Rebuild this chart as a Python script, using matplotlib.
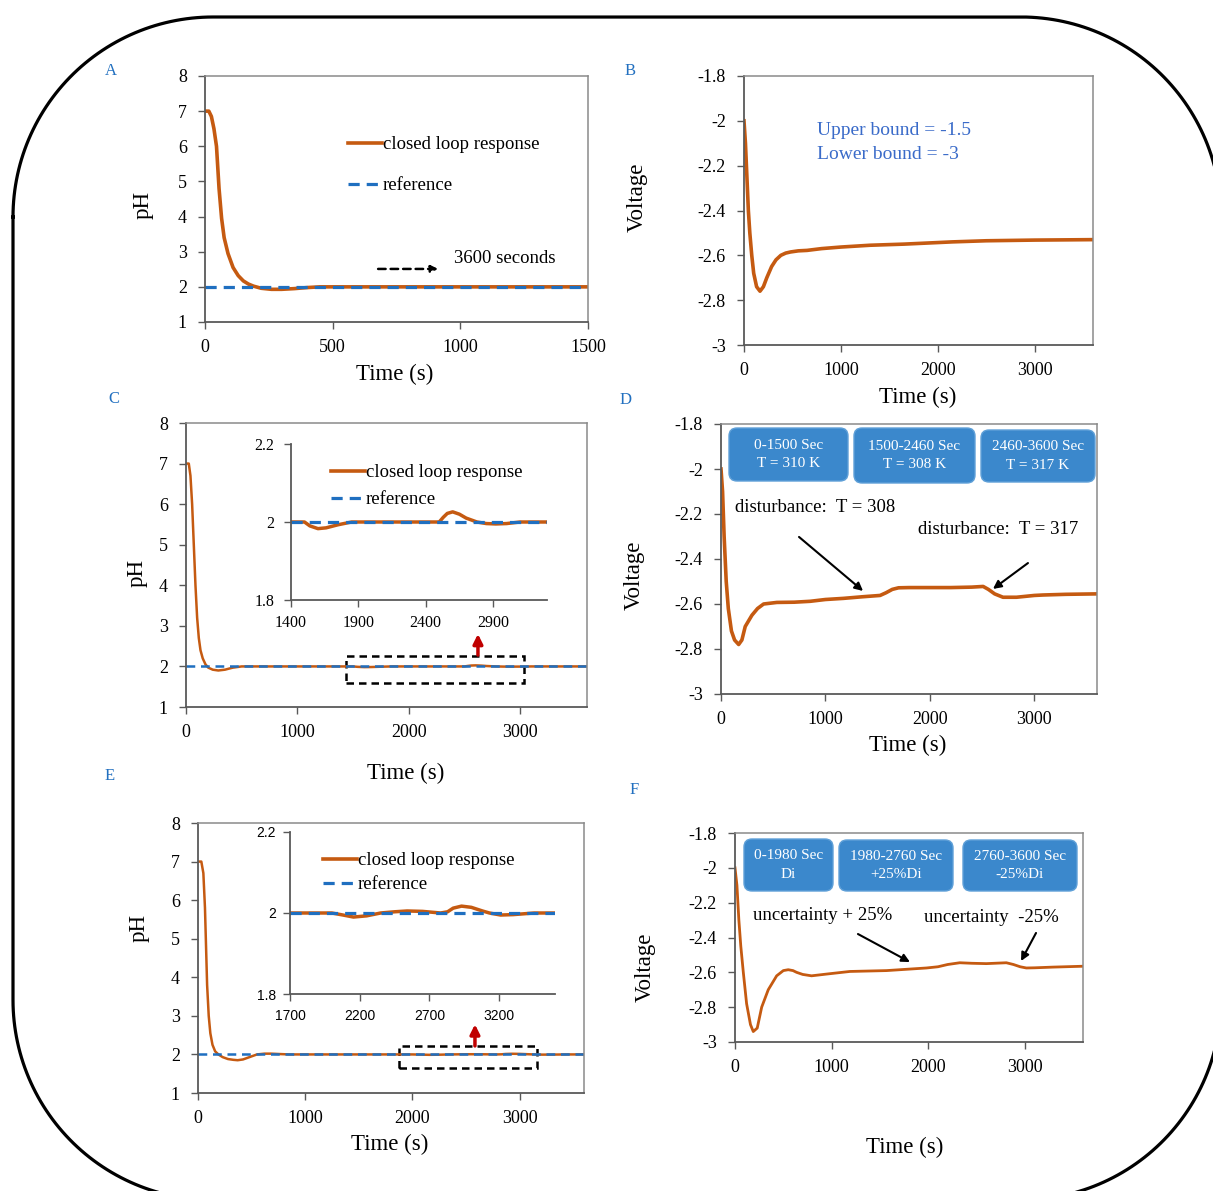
import matplotlib
matplotlib.use("Agg")
import numpy as np
import matplotlib.pyplot as plt
from matplotlib.patches import FancyBboxPatch, Rectangle
from matplotlib.lines import Line2D
from matplotlib.ticker import FuncFormatter

plt.rcParams['font.family'] = ['Liberation Serif', 'DejaVu Serif']
plt.rcParams['axes.unicode_minus'] = False

# ---- data ----
# A: pH, first 1500 s
a_t = [0, 15, 25, 35, 45, 55, 65, 75, 90, 110, 130, 150, 170, 190, 220, 260, 300, 350, 400, 450, 600, 1000, 1500]
a_ph = [7.0, 7.0, 6.85, 6.5, 6.0, 4.8, 3.95, 3.4, 2.95, 2.55, 2.32, 2.17, 2.08, 2.02, 1.96, 1.93, 1.93, 1.95, 1.98, 2.0, 2.0, 2.0, 2.0]

# B: voltage, nominal
b_t = [0, 15, 30, 45, 60, 80, 100, 130, 165, 200, 235, 285, 330, 380, 430, 480, 560, 650, 800, 1000, 1300, 1650, 2150, 2500, 3000, 3600]
b_v = [-2.0, -2.1, -2.25, -2.4, -2.5, -2.6, -2.68, -2.74, -2.76, -2.74, -2.7, -2.65, -2.62, -2.60, -2.59, -2.585,
       -2.58, -2.578, -2.57, -2.563, -2.555, -2.55, -2.54, -2.535, -2.532, -2.53]

# C: pH with temperature disturbance
c_t = [0, 25, 40, 55, 70, 85, 100, 115, 130, 150, 175, 200, 240, 290, 350, 420, 500, 700, 1000, 1400, 1500,
       1540, 1600, 1660, 1750, 1850, 2000, 2300, 2500, 2530, 2560, 2600, 2650, 2700, 2780, 2850, 2920, 3000,
       3100, 3300, 3600]
c_ph = [7.0, 7.0, 6.7, 6.0, 5.0, 4.0, 3.2, 2.7, 2.4, 2.2, 2.05, 1.97, 1.92, 1.90, 1.92, 1.97, 2.0, 2.0, 2.0, 2.0, 2.0,
        1.99, 1.983, 1.985, 1.993, 2.0, 2.0, 2.0, 2.0, 2.012, 2.022, 2.026, 2.02, 2.01, 2.0, 1.996, 1.995, 1.996,
        2.0, 2.0, 2.0]

# D: voltage with temperature disturbance
d_t = [0, 15, 30, 50, 70, 100, 130, 169, 200, 232, 296, 350, 408, 535, 700, 854, 1000, 1172, 1350, 1523, 1580,
       1640, 1700, 1800, 2000, 2200, 2400, 2510, 2560, 2620, 2700, 2829, 3000, 3084, 3300, 3600]
d_v = [-2.0, -2.1, -2.3, -2.5, -2.62, -2.72, -2.76, -2.78, -2.76, -2.7, -2.65, -2.62, -2.6, -2.593, -2.592, -2.588,
       -2.58, -2.575, -2.568, -2.562, -2.55, -2.535, -2.528, -2.527, -2.527, -2.527, -2.525, -2.522, -2.535, -2.555,
       -2.57, -2.57, -2.562, -2.56, -2.557, -2.555]

# E: pH with model uncertainty
e_t = [0, 31, 50, 65, 75, 85, 100, 115, 135, 160, 190, 230, 280, 330, 370, 420, 480, 550, 620, 680, 760, 850, 950,
       1200, 1600, 2000, 2080, 2155, 2250, 2350, 2450, 2540, 2650, 2780, 2830, 2870, 2930, 3000, 3080, 3130, 3210,
       3300, 3450, 3600]
e_ph = [7.0, 7.0, 6.7, 5.8, 4.8, 3.8, 3.0, 2.55, 2.25, 2.08, 2.0, 1.93, 1.88, 1.86, 1.85, 1.87, 1.93, 2.0, 2.02,
        2.02, 2.01, 2.0, 2.0, 2.0, 2.0, 2.0, 1.995, 1.99, 1.993, 2.0, 2.003, 2.005, 2.004, 2.0, 2.003, 2.012, 2.017,
        2.014, 2.005, 2.0, 1.995, 1.996, 2.0, 2.0]

# F: voltage with model uncertainty
f_t = [0, 20, 40, 60, 86, 120, 160, 189, 230, 276, 344, 431, 500, 551, 600, 637, 700, 792, 947, 1188, 1567, 1981,
       2100, 2200, 2325, 2450, 2601, 2807, 2880, 2950, 3014, 3100, 3290, 3600]
f_v = [-2.0, -2.1, -2.3, -2.45, -2.6, -2.78, -2.9, -2.94, -2.92, -2.8, -2.7, -2.62, -2.59, -2.585, -2.59, -2.6,
       -2.612, -2.62, -2.61, -2.595, -2.59, -2.575, -2.568, -2.555, -2.545, -2.548, -2.55, -2.545, -2.555, -2.568,
       -2.575, -2.574, -2.57, -2.565]

ref_ph = 2.0
d_boxes = ['0-1500 Sec\nT = 310 K', '1500-2460 Sec\nT = 308 K', '2460-3600 Sec\nT = 317 K']
f_boxes = ['0-1980 Sec\nDi', '1980-2760 Sec\n+25%Di', '2760-3600 Sec\n-25%Di']

ORANGE = '#C55A11'
BLUE = '#1F6FC0'
BOXBLUE = '#3B88CC'
LETTER = '#2270C0'

W, H = 1213, 1191
fig = plt.figure(figsize=(W / 100, H / 100), dpi=100)
fig.patch.set_facecolor('white')


def add_ax(l, t, r, b, **kw):
    return fig.add_axes([l / W, 1 - b / H, (r - l) / W, (b - t) / H], **kw)


fmt = FuncFormatter(lambda v, p: f'{v:g}')


def style(ax, xpad=7, ypad=8, size=13, box=True):
    for s in ['left', 'bottom']:
        ax.spines[s].set_color('#595959')
        ax.spines[s].set_linewidth(1.3)
    for s in ['top', 'right']:
        if box:
            ax.spines[s].set_color('#8a8a8a')
            ax.spines[s].set_linewidth(1.1)
        else:
            ax.spines[s].set_visible(False)
    ax.tick_params(direction='out', length=5, width=1, color='#595959', labelsize=size)
    ax.tick_params(axis='x', pad=xpad)
    ax.tick_params(axis='y', pad=ypad)
    ax.xaxis.set_major_formatter(fmt)
    ax.yaxis.set_major_formatter(fmt)


def px(x, y):
    return (x / W, 1 - y / H)


def label(x, y, s, rot=0, size=16.5):
    fig.text(*px(x, y), s, ha='center', va='center', rotation=rot, fontsize=size)


ref_kw = dict(color=BLUE, lw=2.3, dashes=(3.5, 2.2))
red_arr = dict(arrowstyle='-|>', color='#C00000', lw=2.5, mutation_scale=14, shrinkA=0, shrinkB=0)
arr = dict(arrowstyle='-|>', color='black', lw=1.5, mutation_scale=12, shrinkA=0, shrinkB=0)


def pH_legend(ax, x, y, spacing):
    ax.legend(handles=[Line2D([], [], color=ORANGE, lw=2.6), Line2D([], [], **ref_kw)],
              labels=['closed loop response', 'reference'], loc='upper left',
              bbox_to_anchor=px(x, y), bbox_transform=fig.transFigure,
              frameon=False, fontsize=13.5, handlelength=1.8, handletextpad=0.05,
              labelspacing=spacing, borderpad=0, borderaxespad=0)


# ---- A ----
axA = add_ax(205, 76, 588, 322)
axA.plot(a_t, a_ph, color=ORANGE, lw=2.6)
axA.axhline(ref_ph, **ref_kw)
axA.set_xlim(0, 1500)
axA.set_ylim(1, 8)
axA.set_xticks([0, 500, 1000, 1500])
axA.set_yticks(range(1, 9))
style(axA)
pH_legend(axA, 348, 136, 1.28)
axA.text(975, 2.82, '3600 seconds', fontsize=13.5, va='center', ha='left')
axA.annotate('', xy=(913, 2.51), xytext=(678, 2.51),
             arrowprops=dict(arrowstyle='-|>', color='black', lw=1.8, ls=(0, (3, 2)),
                             mutation_scale=10, shrinkA=0, shrinkB=0))

# ---- B ----
axB = add_ax(744, 76, 1093, 345)
axB.plot(b_t, b_v, color=ORANGE, lw=2.6)
axB.set_xlim(0, 3600)
axB.set_ylim(-3, -1.8)
axB.set_xticks([0, 1000, 2000, 3000])
axB.set_yticks([-3, -2.8, -2.6, -2.4, -2.2, -2, -1.8])
style(axB)
axB.text(753, -2.041, 'Upper bound = -1.5', color='#3A6BC9', fontsize=14, va='center')
axB.text(753, -2.148, 'Lower bound = -3', color='#3A6BC9', fontsize=14, va='center')

# ---- C ----
axC = add_ax(186, 423, 587, 707)
axC.plot(c_t, c_ph, color=ORANGE, lw=1.8)
axC.axhline(ref_ph, color=BLUE, lw=1.8, dashes=(3.5, 2.3))
axC.set_xlim(0, 3600)
axC.set_ylim(1, 8)
axC.set_xticks([0, 1000, 2000, 3000])
axC.set_yticks(range(1, 9))
style(axC)
axC.add_patch(Rectangle((1436, 1.60), 3034 - 1436, 0.66, fill=False, ec='black', lw=1.8, ls=(0, (3, 2))))
axC.annotate('', xy=(2621, 2.80), xytext=(2621, 2.28), arrowprops=red_arr)

axCi = add_ax(291, 444, 547, 600)
axCi.plot(c_t, c_ph, color=ORANGE, lw=2.5)
axCi.axhline(ref_ph, **ref_kw)
axCi.set_xlim(1400, 3300)
axCi.set_ylim(1.8, 2.2)
axCi.set_xticks([1400, 1900, 2400, 2900])
axCi.set_yticks([1.8, 2, 2.2])
style(axCi, xpad=6, ypad=7, size=11.5, box=False)
pH_legend(axCi, 331, 464, 0.53)

# ---- D ----
axD = add_ax(721, 424, 1097, 694)
axD.plot(d_t, d_v, color=ORANGE, lw=2.6)
axD.set_xlim(0, 3600)
axD.set_ylim(-3, -1.8)
axD.set_xticks([0, 1000, 2000, 3000])
axD.set_yticks([-3, -2.8, -2.6, -2.4, -2.2, -2, -1.8])
style(axD)
axD.text(134, -2.169, 'disturbance:  T = 308', fontsize=13.5, va='center')
axD.text(1886, -2.267, 'disturbance:  T = 317', fontsize=13.5, va='center')
axD.annotate('', xy=(1360, -2.542), xytext=(747, -2.302), arrowprops=arr)
axD.annotate('', xy=(2604, -2.533), xytext=(2939, -2.418), arrowprops=arr)

# ---- E ----
axE = add_ax(198, 823, 584, 1093)
axE.plot(e_t, e_ph, color=ORANGE, lw=1.8)
axE.axhline(ref_ph, color=BLUE, lw=1.8, dashes=(3.5, 2.3))
axE.set_xlim(0, 3600)
axE.set_ylim(1, 8)
axE.set_xticks([0, 1000, 2000, 3000])
axE.set_yticks(range(1, 9))
style(axE)
axE.add_patch(Rectangle((1875, 1.65), 3162 - 1875, 0.57, fill=False, ec='black', lw=1.8, ls=(0, (3, 2))))
axE.annotate('', xy=(2583, 2.78), xytext=(2583, 2.22), arrowprops=red_arr)

axEi = add_ax(290, 832, 555, 994)
axEi.plot(e_t, e_ph, color=ORANGE, lw=2.5)
axEi.axhline(ref_ph, **ref_kw)
axEi.set_xlim(1700, 3600)
axEi.set_ylim(1.8, 2.2)
axEi.set_xticks([1700, 2200, 2700, 3200])
axEi.set_yticks([1.8, 2, 2.2])
style(axEi, xpad=6, ypad=5, size=10, box=False)
for t in axEi.get_xticklabels() + axEi.get_yticklabels():
    t.set_family(['Liberation Sans', 'DejaVu Sans'])
pH_legend(axEi, 323, 852, 0.37)

# ---- F ----
axF = add_ax(735, 833, 1083, 1042)
axF.plot(f_t, f_v, color=ORANGE, lw=2.0)
axF.set_xlim(0, 3600)
axF.set_ylim(-3, -1.8)
axF.set_xticks([0, 1000, 2000, 3000])
axF.set_yticks([-3, -2.8, -2.6, -2.4, -2.2, -2, -1.8])
style(axF)
axF.text(186, -2.271, 'uncertainty + 25%', fontsize=13.5, va='center')
axF.text(1955, -2.288, 'uncertainty  -25%', fontsize=13.5, va='center')
axF.annotate('', xy=(1810, -2.541), xytext=(1272, -2.380), arrowprops=arr)
axF.annotate('', xy=(2959, -2.535), xytext=(3114, -2.374), arrowprops=arr)

# ---- axis titles ----
for x, y in [(395, 374), (918, 397), (406, 773), (908, 745), (390, 1144), (905, 1147)]:
    label(x, y, 'Time (s)')
for x, y, s in [(143, 205, 'pH'), (637, 197, 'Voltage'), (137, 573, 'pH'),
                (634, 575, 'Voltage'), (139, 928, 'pH'), (645, 967, 'Voltage')]:
    label(x, y, s, rot=90)
for x, y, s in [(111, 71, 'A'), (630, 71, 'B'), (114, 399, 'C'),
                (626, 400, 'D'), (110, 776, 'E'), (634, 790, 'F')]:
    fig.text(*px(x, y), s, ha='center', va='center', fontsize=12, color=LETTER)

# ---- overlay: rounded frame and blue boxes (pixel coords) ----
ov = fig.add_axes([0, 0, 1, 1], zorder=10)
ov.set_xlim(0, W)
ov.set_ylim(H, 0)
ov.axis('off')
ov.patch.set_visible(False)

# frame outline: straight sides joined by quarter circles
r = 200
corners = [(13 + r, 17 + r, 180, 270), (1221 - r, 17 + r, 270, 360),
           (1221 - r, 1200 - r, 0, 90), (13 + r, 1200 - r, 90, 180)]
fx, fy = [], []
for cx, cy, a0, a1 in corners:
    ang = np.radians(np.linspace(a0, a1, 60))
    fx.extend(cx + r * np.cos(ang))
    fy.extend(cy + r * np.sin(ang))
fx.append(fx[0])
fy.append(fy[0])
ov.plot(fx, fy, color='black', lw=2.3, clip_on=False)

d_pos = [(729, 428, 848, 481), (854, 428, 975, 483), (981, 430, 1095, 482)]
f_pos = [(744, 839, 833, 891), (839, 840, 953, 891), (963, 840, 1077, 891)]
for txts, pos in [(d_boxes, d_pos), (f_boxes, f_pos)]:
    for s, (x0, y0, x1, y1) in zip(txts, pos):
        ov.add_patch(FancyBboxPatch((x0, y0), x1 - x0, y1 - y0,
                                    boxstyle='round,pad=0,rounding_size=8',
                                    fc=BOXBLUE, ec='#5FA0D8', lw=1))
        ov.text((x0 + x1) / 2, (y0 + y1) / 2, s, ha='center', va='center',
                color='white', fontsize=11, linespacing=1.55)

fig.savefig('out.png', dpi=100)
